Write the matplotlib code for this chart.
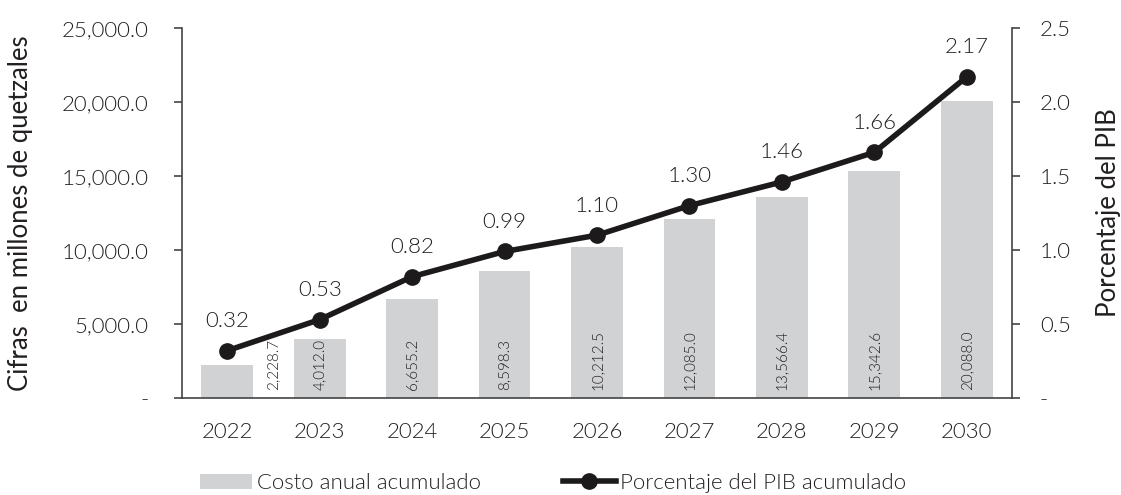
import matplotlib
matplotlib.use('Agg')
import matplotlib.pyplot as plt
from matplotlib.ticker import FuncFormatter

plt.rcParams['font.family'] = ['Lato', 'DejaVu Sans']
plt.rcParams['font.weight'] = 300

# data
years = ['2022', '2023', '2024', '2025', '2026', '2027', '2028', '2029', '2030']
costo = [2228.7, 4012.0, 6655.2, 8598.3, 10212.5, 12085.0, 13566.4, 15342.6, 20088.0]
pib = [0.32, 0.53, 0.82, 0.99, 1.10, 1.30, 1.46, 1.66, 2.17]

BAR_C = '#d1d2d4'
LINE_C = '#1c1a1b'
TXT_C = '#231f20'

fig = plt.figure(figsize=(11.21, 4.95), dpi=100)
ax = fig.add_axes([0.1624, 0.196, 0.7404, 0.7474])
ax2 = ax.twinx()

x = list(range(len(years)))
bars = ax.bar(x, costo, width=0.56, color=BAR_C, label='Costo anual acumulado', zorder=1)
line, = ax2.plot(x, pib, color=LINE_C, lw=4, marker='o', ms=11,
                 label='Porcentaje del PIB acumulado', zorder=3)

# bar value labels (vertical, near the base)
for i, v in enumerate(costo):
    xi = i + 0.49 if i == 0 else i
    ax.text(xi, 550, f'{v:,.1f}', rotation=90, ha='center', va='bottom',
            fontsize=11, color=TXT_C, zorder=2)

# line value labels
for i, v in enumerate(pib):
    ax2.annotate(f'{v:.2f}', (i, v), xytext=(0, 14), textcoords='offset points',
                 ha='center', va='bottom', fontsize=16, color=TXT_C)

ax.set_xlim(-0.49, 8.49)
ax.set_ylim(0, 25000)
ax2.set_ylim(0, 2.5)
ax.set_yticks([0, 5000, 10000, 15000, 20000, 25000])
ax2.set_yticks([0, 0.5, 1.0, 1.5, 2.0, 2.5])
ax.yaxis.set_major_formatter(FuncFormatter(lambda v, p: '-' if v == 0 else f'{v:,.1f}'))
ax2.yaxis.set_major_formatter(FuncFormatter(lambda v, p: '-' if v == 0 else f'{v:.1f}'))
ax.set_xticks(x)
ax.set_xticklabels(years)

for a in (ax, ax2):
    a.spines['top'].set_visible(False)
    for s in ('left', 'right', 'bottom'):
        a.spines[s].set_color('#444')
        a.spines[s].set_linewidth(1.2)
ax.spines['right'].set_visible(False)
ax2.spines['left'].set_visible(False)
ax2.spines['bottom'].set_visible(False)

ax.tick_params(axis='y', length=6, width=1.2, color='#444', labelsize=16,
               labelcolor=TXT_C, pad=18)
ax2.tick_params(axis='y', length=6, width=1.2, color='#444', labelsize=16,
                labelcolor=TXT_C, pad=14)
ax.tick_params(axis='x', length=0, labelsize=16, labelcolor=TXT_C, pad=17)

ax.set_ylabel('Cifras  en millones de quetzales', fontsize=18.5, color=TXT_C, labelpad=21)
ax2.set_ylabel('Porcentaje del PIB', fontsize=18.5, color=TXT_C, labelpad=18)

fig.legend([bars, line], ['Costo anual acumulado', 'Porcentaje del PIB acumulado'],
           loc='center left', bbox_to_anchor=(200 / 1121, 0.024), ncol=2, frameon=False,
           borderpad=0, borderaxespad=0, fontsize=16, handlelength=2.35,
           handletextpad=0.22, columnspacing=3.7, labelcolor=TXT_C)

fig.savefig('out.png', dpi=100)
